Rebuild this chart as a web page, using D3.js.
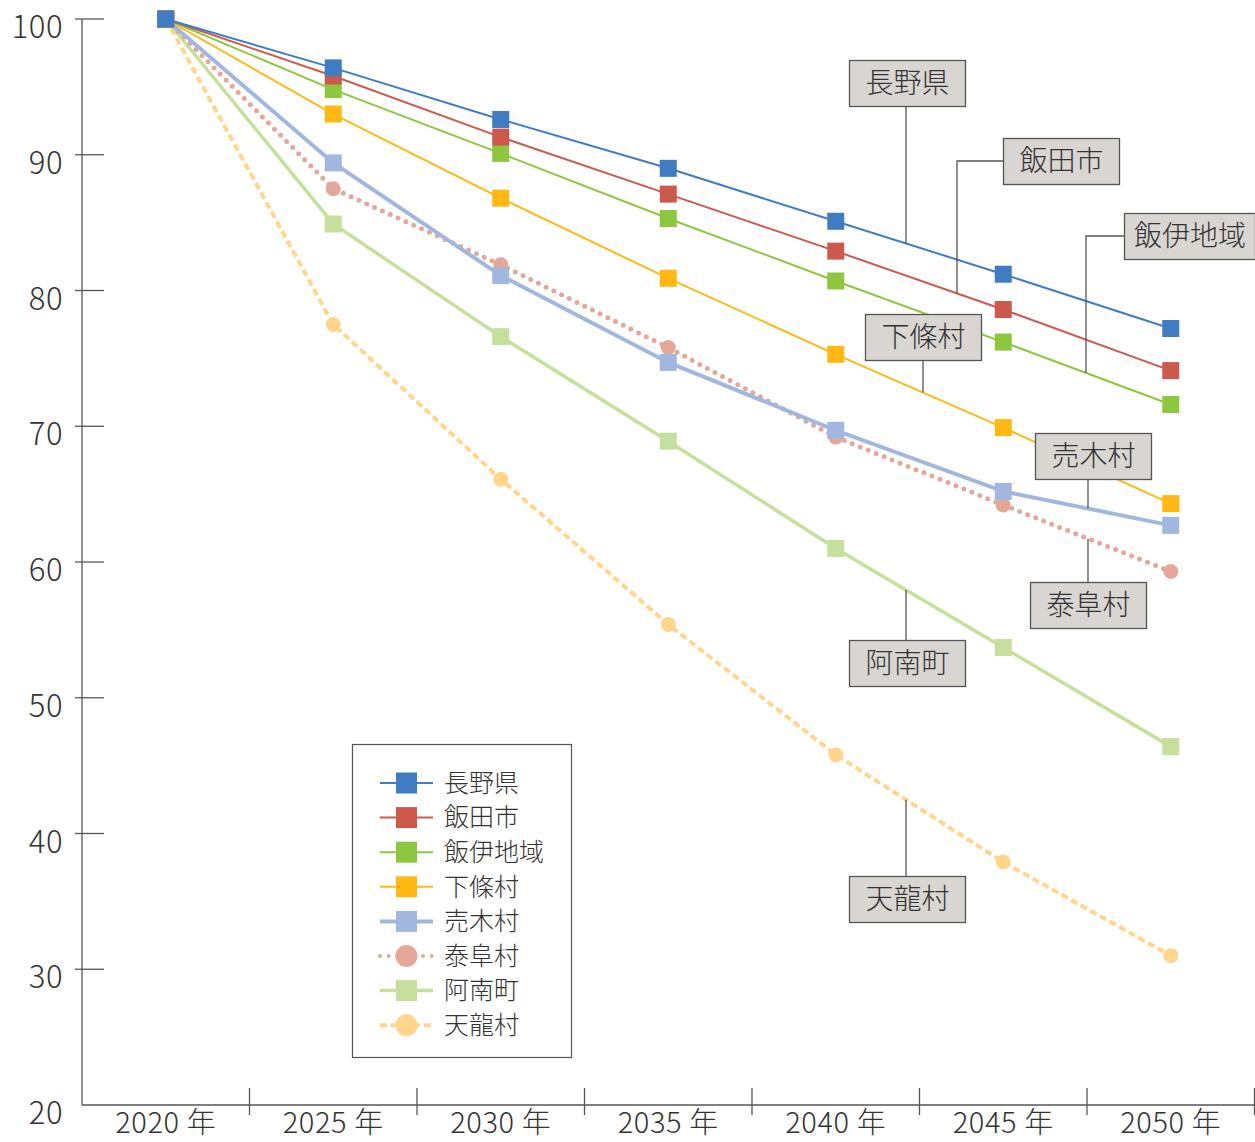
<!DOCTYPE html>
<html lang="ja">
<head>
<meta charset="utf-8">
<script src="https://cdn.jsdelivr.net/npm/d3@7/dist/d3.min.js"></script>
<style>
  html, body { margin: 0; padding: 0; background: #fff; }
  svg { display: block; }
  text { font-family: "Noto Sans CJK JP", "Noto Sans", sans-serif; font-weight: 300; fill: #333; }
</style>
</head>
<body>
<svg id="chart" width="1255" height="1142"></svg>
<script>
// Population index (2020 = 100)
const years = ["2020 年", "2025 年", "2030 年", "2035 年", "2040 年", "2045 年", "2050 年"];
const yTicks = [20, 30, 40, 50, 60, 70, 80, 90, 100];

const naganoKen  = [100, 96.4, 92.6, 89.0, 85.1, 81.2, 77.2];
const iidaShi    = [100, 95.8, 91.3, 87.1, 82.9, 78.6, 74.1];
const iiChiiki   = [100, 94.8, 90.1, 85.3, 80.7, 76.2, 71.6];
const shimojo    = [100, 93.0, 86.8, 80.9, 75.3, 69.9, 64.3];
const urugi      = [100, 89.4, 81.1, 74.7, 69.7, 65.2, 62.7];
const yasuoka    = [100, 87.5, 81.9, 75.8, 69.2, 64.2, 59.3];
const anan       = [100, 84.9, 76.6, 68.9, 61.0, 53.7, 46.4];
const tenryu     = [100, 77.5, 66.1, 55.4, 45.8, 37.9, 31.0];

const seriesNames = ["長野県", "飯田市", "飯伊地域", "下條村", "売木村", "泰阜村", "阿南町", "天龍村"];
const seriesValues = [naganoKen, iidaShi, iiChiiki, shimojo, urugi, yasuoka, anan, tenryu];

// Visual style per series
const styles = [
  { color: "#3f7cc1", width: 2,   marker: "square", dash: null },
  { color: "#cb5a4d", width: 2,   marker: "square", dash: null },
  { color: "#8dc63f", width: 2,   marker: "square", dash: null },
  { color: "#ffb814", width: 2,   marker: "square", dash: null },
  { color: "#a2b7de", width: 4,   marker: "square", dash: null },
  { color: "#e4a89b", width: 5,   marker: "circle", dash: "0 8.6", cap: "round" },
  { color: "#c5e09c", width: 3.5, marker: "square", dash: null },
  { color: "#ffd68c", width: 4,   marker: "circle", dash: "7 4" }
];

const series = seriesNames.map((name, i) => ({
  name, values: seriesValues[i], style: styles[i]
}));

const svg = d3.select("#chart");

const x = d3.scaleBand().domain(years).range([82, 1254.5]).padding(0);
const y = d3.scaleLinear().domain([20, 100]).range([1105, 19]);
const cx = d => x(d) + x.bandwidth() / 2;

const axisColor = "#555";

// Y axis
const yAxis = svg.append("g").attr("transform", "translate(82,0)");
yAxis.append("line").attr("x1", 0).attr("x2", 0).attr("y1", y(100)).attr("y2", y(20))
  .attr("stroke", axisColor).attr("stroke-width", 1.3);
yAxis.selectAll("line.tick").data(yTicks.filter(t => t > 20)).join("line")
  .attr("class", "tick")
  .attr("x1", -7).attr("x2", 22)
  .attr("y1", d => y(d)).attr("y2", d => y(d))
  .attr("stroke", axisColor).attr("stroke-width", 1.3);
yAxis.selectAll("text").data(yTicks).join("text")
  .attr("x", -19).attr("y", d => y(d) + 19)
  .attr("text-anchor", "end")
  .attr("font-size", 31)
  .attr("letter-spacing", 0.5)
  .text(d => d);

// X axis
const xAxis = svg.append("g");
xAxis.append("line").attr("x1", 82).attr("x2", 1255).attr("y1", y(20)).attr("y2", y(20))
  .attr("stroke", axisColor).attr("stroke-width", 1.3);
xAxis.selectAll("line.tick").data(years.slice(1).concat(["end"])).join("line")
  .attr("class", "tick")
  .attr("x1", (d, i) => 82 + x.bandwidth() * (i + 1))
  .attr("x2", (d, i) => 82 + x.bandwidth() * (i + 1))
  .attr("y1", y(20) - 17).attr("y2", y(20) + 10)
  .attr("stroke", axisColor).attr("stroke-width", 1.3);
xAxis.selectAll("text").data(years).join("text")
  .attr("x", d => cx(d)).attr("y", 1133)
  .attr("text-anchor", "middle")
  .attr("font-size", 29)
  .attr("letter-spacing", 0.6)
  .text(d => d);

// Lines and markers; earlier series sit on top
const line = d3.line().x((d, i) => cx(years[i])).y(d => y(d));
const plot = svg.append("g");
const drawOrder = series.slice().reverse();

drawOrder.forEach(s => {
  const g = plot.append("g");
  g.append("path")
    .attr("d", line(s.values))
    .attr("fill", "none")
    .attr("stroke", s.style.color)
    .attr("stroke-width", s.style.width)
    .attr("stroke-dasharray", s.style.dash)
    .attr("stroke-linecap", s.style.cap || "butt");
  if (s.style.marker === "square") {
    g.selectAll("rect").data(s.values).join("rect")
      .attr("x", (d, i) => cx(years[i]) - 8.5)
      .attr("y", d => y(d) - 8.5)
      .attr("width", 17).attr("height", 17)
      .attr("fill", s.style.color);
  } else {
    g.selectAll("circle").data(s.values).join("circle")
      .attr("cx", (d, i) => cx(years[i]))
      .attr("cy", d => y(d))
      .attr("r", 7.5)
      .attr("fill", s.style.color);
  }
});

// Value of a series at an arbitrary pixel x (linear between points)
function yAt(values, px) {
  const xs = years.map(cx);
  for (let i = 0; i < xs.length - 1; i++) {
    if (px >= xs[i] && px <= xs[i + 1]) {
      const t = (px - xs[i]) / (xs[i + 1] - xs[i]);
      return y(values[i]) + t * (y(values[i + 1]) - y(values[i]));
    }
  }
  return y(values[values.length - 1]);
}

// Callout boxes with leader lines
const callouts = [
  { name: "長野県",   bx: 849,  by: 60,  bw: 116, leader: { type: "down", x: 906 } },
  { name: "飯田市",   bx: 1003, by: 138, bw: 116, leader: { type: "elbow", x: 957 } },
  { name: "飯伊地域", bx: 1124, by: 213, bw: 131, leader: { type: "elbow", x: 1086 } },
  { name: "下條村",   bx: 865,  by: 314, bw: 116, leader: { type: "down", x: 923 } },
  { name: "売木村",   bx: 1035, by: 433, bw: 116, leader: { type: "down", x: 1088 } },
  { name: "泰阜村",   bx: 1030, by: 582, bw: 116, leader: { type: "up", x: 1088 } },
  { name: "阿南町",   bx: 849,  by: 640, bw: 116, leader: { type: "up", x: 906 } },
  { name: "天龍村",   bx: 849,  by: 876, bw: 116, leader: { type: "up", x: 906 } }
];
const boxH = 46;

const co = svg.append("g");
callouts.forEach(c => {
  const s = series.find(d => d.name === c.name);
  const ty = yAt(s.values, c.leader.x);
  let path;
  if (c.leader.type === "down") {
    path = `M${c.leader.x},${c.by + boxH}V${ty}`;
  } else if (c.leader.type === "up") {
    path = `M${c.leader.x},${c.by}V${ty}`;
  } else {
    const my = c.by + boxH / 2;
    path = `M${c.bx},${my}H${c.leader.x}V${ty}`;
  }
  co.append("path").attr("d", path).attr("fill", "none")
    .attr("stroke", "#555").attr("stroke-width", 1.3);
  co.append("rect")
    .attr("x", c.bx + 0.5).attr("y", c.by + 0.5)
    .attr("width", c.bw).attr("height", boxH)
    .attr("fill", "#d9d6d2").attr("stroke", "#555").attr("stroke-width", 1.3);
  co.append("text")
    .attr("x", c.bx + c.bw / 2 + 0.5).attr("y", c.by + boxH / 2 + 2)
    .attr("text-anchor", "middle").attr("dominant-baseline", "middle")
    .attr("font-size", 28).attr("fill", "#333")
    .text(c.name);
});

// Legend
const legend = svg.append("g");
legend.append("rect").attr("x", 352.5).attr("y", 744.5).attr("width", 219).attr("height", 313)
  .attr("fill", "#fff").attr("stroke", "#555").attr("stroke-width", 1.2);
series.forEach((s, i) => {
  const ry = 783 + i * 34.6;
  const g = legend.append("g");
  g.append("line").attr("x1", 380).attr("x2", 433).attr("y1", ry).attr("y2", ry)
    .attr("stroke", s.style.color)
    .attr("stroke-width", Math.min(s.style.width, 4))
    .attr("stroke-dasharray", s.style.dash)
    .attr("stroke-linecap", s.style.cap || "butt");
  if (s.style.marker === "square") {
    g.append("rect").attr("x", 396).attr("y", ry - 10.5).attr("width", 21).attr("height", 21)
      .attr("fill", s.style.color);
  } else {
    g.append("circle").attr("cx", 406.5).attr("cy", ry).attr("r", 11)
      .attr("fill", s.style.color);
  }
  g.append("text").attr("x", 444).attr("y", ry + 2)
    .attr("dominant-baseline", "middle").attr("font-size", 25)
    .text(s.name);
});
</script>
</body>
</html>
